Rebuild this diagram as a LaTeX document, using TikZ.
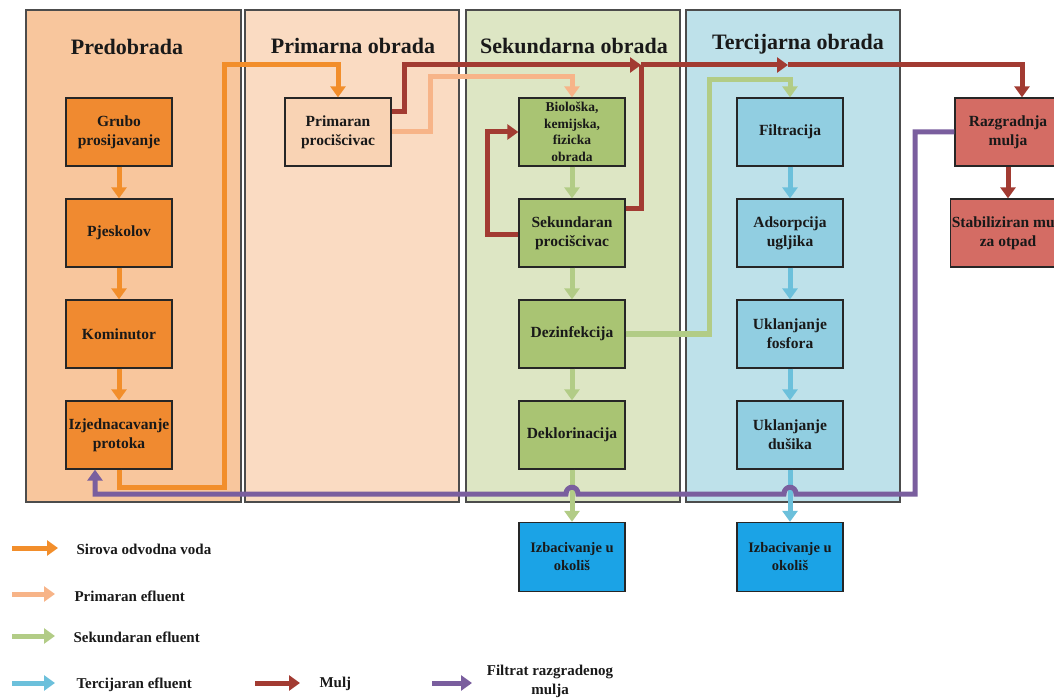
\documentclass[tikz,border=0pt]{standalone}
\usepackage{fontspec}
\setmainfont{Liberation Serif}
\usetikzlibrary{positioning, arrows.meta}

\definecolor{prePanel}{RGB}{248,198,157}
\definecolor{primPanel}{RGB}{250,219,194}
\definecolor{sekPanel}{RGB}{221,230,196}
\definecolor{tercPanel}{RGB}{190,225,234}
\definecolor{preBox}{RGB}{240,138,48}
\definecolor{primBox}{RGB}{249,211,180}
\definecolor{sekBox}{RGB}{169,196,115}
\definecolor{tercBox}{RGB}{145,206,225}
\definecolor{muljBox}{RGB}{212,108,100}
\definecolor{outBox}{RGB}{27,163,230}
\definecolor{rawC}{RGB}{242,142,43}
\definecolor{primC}{RGB}{247,180,136}
\definecolor{sekC}{RGB}{178,204,134}
\definecolor{tercC}{RGB}{108,192,219}
\definecolor{muljC}{RGB}{162,59,50}
\definecolor{filtC}{RGB}{122,94,158}

\begin{document}
\begin{tikzpicture}[x=1pt, y=-1pt, node distance=101pt, on grid,
    >={Triangle[width=15pt,length=11pt]},
    panel/.style={draw=black!70, line width=1.4pt},
    title/.style={font=\bfseries\fontsize{22}{26}\selectfont, text=black!90},
    box/.style={draw=black!85, line width=1.3pt, minimum width=106pt, minimum height=68pt,
        align=center, inner sep=1pt, text=black!90, font=\bfseries\fontsize{15.5}{19}\selectfont},
    prebox/.style={box, fill=preBox},
    primbox/.style={box, fill=primBox},
    sekbox/.style={box, fill=sekBox},
    tercbox/.style={box, fill=tercBox},
    muljbox/.style={box, fill=muljBox},
    outbox/.style={box, fill=outBox, minimum height=69pt},
    legend/.style={font=\bfseries\fontsize{15}{19}\selectfont, text=black!90, align=center},
    raw/.style={color=rawC, line width=5pt, ->},
    effprim/.style={color=primC, line width=5pt, ->},
    effsek/.style={color=sekC, line width=5pt, ->},
    effterc/.style={color=tercC, line width=5pt, ->},
    muljline/.style={color=muljC, line width=5pt},
    mulj/.style={muljline, ->},
    filtrat/.style={color=filtC, line width=5pt, ->}]

    \useasboundingbox (0,0) rectangle (1054,700);

    % stupci
    \draw[panel, fill=prePanel] (26,10) rectangle (241,502);
    \draw[panel, fill=primPanel] (245,10) rectangle (459,502);
    \draw[panel, fill=sekPanel] (466,10) rectangle (680,502);
    \draw[panel, fill=tercPanel] (686,10) rectangle (900,502);

    \node[title] (tPre) at (127,47) {Predobrada};
    \node[title] (tPrim) at (353,46) {Primarna obrada};
    \node[title] (tSek) at (574,46) {Sekundarna obrada};
    \node[title] (tTerc) at (798,44) {Tercijarna obrada};

    % predobrada
    \node[prebox] (grubo) at (119,132) {Grubo\\prosijavanje};
    \node[prebox] (pjesk) [below=of grubo] {Pjeskolov};
    \node[prebox] (komin) [below=of pjesk] {Kominutor};
    \node[prebox] (izj) [below=of komin] {Izjednacavanje\\protoka};

    % primarna
    \node[primbox] (prim) at (338,132) {Primaran\\procišcivac};

    % sekundarna
    \node[sekbox, font=\bfseries\fontsize{13.5}{16.5}\selectfont] (bio) at (572,132) {Biološka,\\kemijska,\\fizicka\\obrada};
    \node[sekbox] (sek) [below=of bio] {Sekundaran\\procišcivac};
    \node[sekbox] (dez) [below=of sek] {Dezinfekcija};
    \node[sekbox] (dekl) [below=of dez] {Deklorinacija};
    \node[outbox, font=\bfseries\fontsize{14.5}{18}\selectfont] (izb1) at (572,557) {Izbacivanje u\\okoliš};

    % tercijarna
    \node[tercbox] (filt) at (790,132) {Filtracija};
    \node[tercbox] (adso) [below=of filt] {Adsorpcija\\ugljika};
    \node[tercbox] (fosf) [below=of adso] {Uklanjanje\\fosfora};
    \node[tercbox] (dus) [below=of fosf] {Uklanjanje\\dušika};
    \node[outbox, font=\bfseries\fontsize{14.5}{18}\selectfont] (izb2) at (790,557) {Izbacivanje u\\okoliš};

    % mulj
    \node[muljbox] (razg) at (1008,132) {Razgradnja\\mulja};
    \node[muljbox] (stab) [below=of razg] {Stabiliziran mulj\\za otpad};

    \coordinate (m1) at (641,65);
    \coordinate (m2) at (788,65);

    % sirova voda
    \path[raw] (grubo) edge (pjesk)
               (pjesk) edge (komin)
               (komin) edge (izj);
    \draw[raw] (izj.south) |- (224,487) -- (224,65) -| (prim.north);

    % primarni efluent
    \draw[effprim] (prim.east) -| (430,77) -| (bio.north);

    % sekundarni efluent
    \path[effsek] (bio) edge (sek)
                  (sek) edge (dez)
                  (dez) edge (dekl)
                  (dekl) edge (izb1);
    \draw[effsek] (dez.east) -| (709,80) -| (filt.north);

    % tercijarni efluent
    \path[effterc] (filt) edge (adso)
                   (adso) edge (fosf)
                   (fosf) edge (dus)
                   (dus) edge (izb2);

    % mulj
    \draw[muljline] ([yshift=24pt]sek.east) -| (m1);
    \draw[mulj] ([yshift=20pt]prim.east) -| (404,65) -- (m1);
    \draw[mulj] (m1) -- (m2);
    \draw[mulj] (m2) -| ([xshift=14pt]razg.north);
    \draw[mulj] ([yshift=-2pt]sek.west) -| (487,132) -- (bio.west);
    \path[mulj] (razg) edge (stab);

    % filtrat
    \draw[filtrat] (razg.west) -| (915,494) -- (796,494)
        .. controls (796,485) and (784,485) .. (784,494) -- (578,494)
        .. controls (578,485) and (566,485) .. (566,494) -| ([xshift=-24pt]izj.south);

    % legenda
    \coordinate (lgRaw) at (12,548);
    \coordinate (lgPrim) at (12,594);
    \coordinate (lgSek) at (12,636);
    \coordinate (lgTerc) at (12,683);
    \coordinate (lgMulj) at (255,683);
    \coordinate (lgFilt) at (432,683);
    \draw[raw] (lgRaw) -- ++(46,0);
    \draw[effprim] (lgPrim) -- ++(43,0);
    \draw[effsek] (lgSek) -- ++(43,0);
    \draw[effterc] (lgTerc) -- ++(43,0);
    \draw[mulj] (lgMulj) -- ++(45,0);
    \draw[filtrat] (lgFilt) -- ++(40,0);
    \node[legend, anchor=west] (tRaw) at (73,549) {Sirova odvodna voda};
    \node[legend, anchor=west] (tPrimE) at (71,596) {Primaran efluent};
    \node[legend, anchor=west] (tSekE) at (70,637) {Sekundaran efluent};
    \node[legend, anchor=west] (tTercE) at (73,685) {Tercijaran efluent};
    \node[legend, anchor=west] (tMulj) at (316,684) {Mulj};
    \node[legend] (tFilt) at (550,681) {Filtrat razgradenog\\mulja};
\end{tikzpicture}
\end{document}
